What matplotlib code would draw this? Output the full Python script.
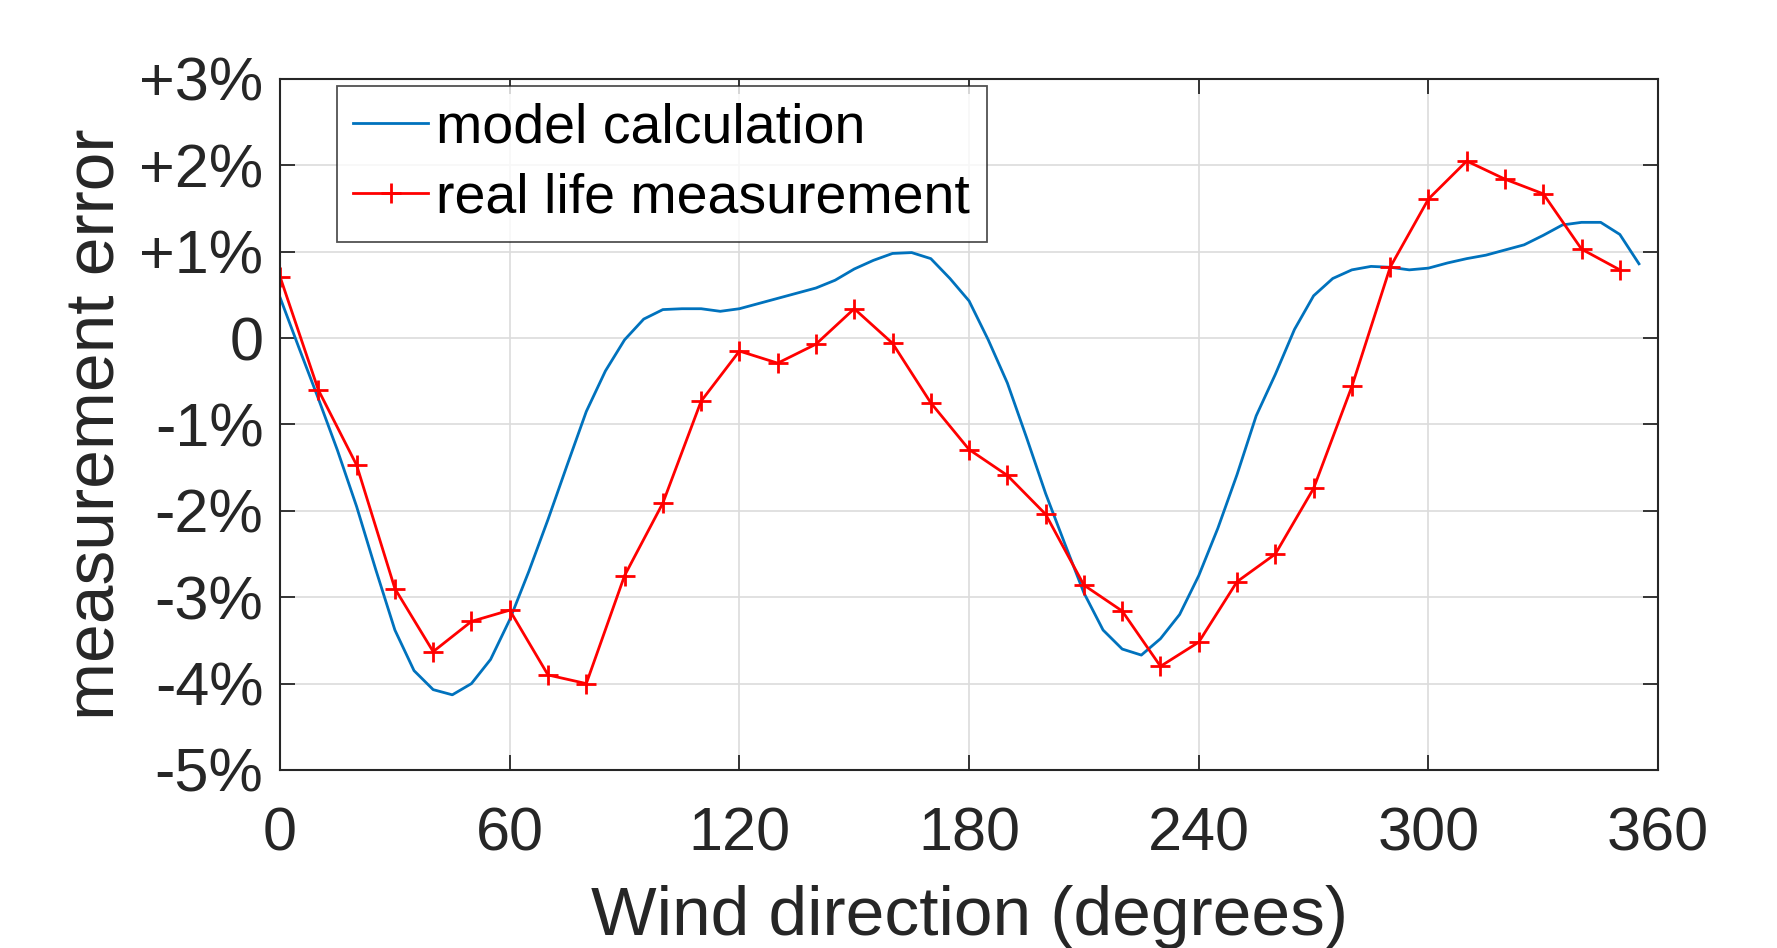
import numpy as np
import matplotlib
matplotlib.use("Agg")
import matplotlib.pyplot as plt

model_deg = [0, 5, 10, 15, 20, 25, 30, 35, 40, 45, 50, 55, 60, 65, 70, 75, 80, 85,
             90, 95, 100, 105, 110, 115, 120, 125, 130, 135, 140, 145, 150, 155,
             160, 165, 170, 175, 180, 185, 190, 195, 200, 205, 210, 215, 220, 225,
             230, 235, 240, 245, 250, 255, 260, 265, 270, 275, 280, 285, 290, 295,
             300, 305, 310, 315, 320, 325, 330, 335, 340, 345, 350, 355]
model_err = [0.47, -0.12, -0.7, -1.3, -1.95, -2.68, -3.38, -3.85, -4.07, -4.13,
             -4.0, -3.72, -3.26, -2.7, -2.1, -1.47, -0.85, -0.38, -0.02, 0.22,
             0.33, 0.34, 0.34, 0.31, 0.34, 0.4, 0.46, 0.52, 0.58, 0.67, 0.8, 0.9,
             0.98, 0.99, 0.92, 0.69, 0.43, -0.02, -0.52, -1.15, -1.8, -2.38, -2.95,
             -3.38, -3.6, -3.67, -3.48, -3.2, -2.75, -2.2, -1.58, -0.9, -0.42,
             0.1, 0.49, 0.69, 0.79, 0.83, 0.82, 0.79, 0.81, 0.87, 0.92, 0.96, 1.02,
             1.08, 1.19, 1.31, 1.34, 1.34, 1.2, 0.86]

# real life measurement, every 10 degrees
meas_deg = list(range(0, 360, 10))
meas_err = [0.71, -0.6, -1.47, -2.9, -3.63, -3.28, -3.15, -3.9, -4.0, -2.75,
            -1.91, -0.73, -0.15, -0.29, -0.07, 0.34, -0.06, -0.75, -1.29, -1.59,
            -2.04, -2.86, -3.16, -3.8, -3.52, -2.82, -2.5, -1.74, -0.56, 0.82,
            1.61, 2.05, 1.84, 1.67, 1.03, 0.79]

xticks = [0, 60, 120, 180, 240, 300, 360]
yticks = [3, 2, 1, 0, -1, -2, -3, -4, -5]
ytick_labels = ["+3%", "+2%", "+1%", "0", "-1%", "-2%", "-3%", "-4%", "-5%"]

plt.rcParams["font.family"] = ["Liberation Sans", "DejaVu Sans"]
dark = "#262626"

fig = plt.figure(figsize=(17.77, 9.48), dpi=100)
ax = fig.add_axes([0.1576, 0.1878, 0.7755, 0.7289])

ax.plot(model_deg, model_err, color="#0072bd", lw=2.0, label="model calculation")
ax.plot(meas_deg, meas_err, color="red", lw=2.0, marker="+", markersize=14,
        markeredgewidth=2.0, label="real life measurement")

ax.set_xlim(0, 360)
ax.set_ylim(-5, 3)
ax.set_xticks(xticks)
ax.set_yticks(yticks)
ax.set_yticklabels(ytick_labels)
ax.grid(True, color="#dcdcdc", lw=1.2)
ax.set_axisbelow(True)
ax.tick_params(direction="in", length=11, width=1.3, color=dark, labelcolor=dark,
               labelsize=44, top=True, right=True)
ax.tick_params(axis="x", pad=26)
ax.tick_params(axis="y", pad=12)
for s in ax.spines.values():
    s.set_color(dark)
    s.set_linewidth(1.5)

ax.set_xlabel("Wind direction (degrees)", fontsize=50, color=dark, labelpad=16)
ax.set_ylabel("measurement error", fontsize=50, color=dark, labelpad=8)

leg = ax.legend(loc="upper left", bbox_to_anchor=(0.041, 0.99), fontsize=40,
                frameon=True, fancybox=False, edgecolor=dark, handlelength=1.35,
                handletextpad=0.14, borderpad=0.3, labelspacing=0.33,
                borderaxespad=0.0)
leg.get_frame().set_linewidth(1.3)
for t in leg.get_texts():
    t.set_color("black")

fig.savefig("out.png", dpi=100, facecolor="white")
